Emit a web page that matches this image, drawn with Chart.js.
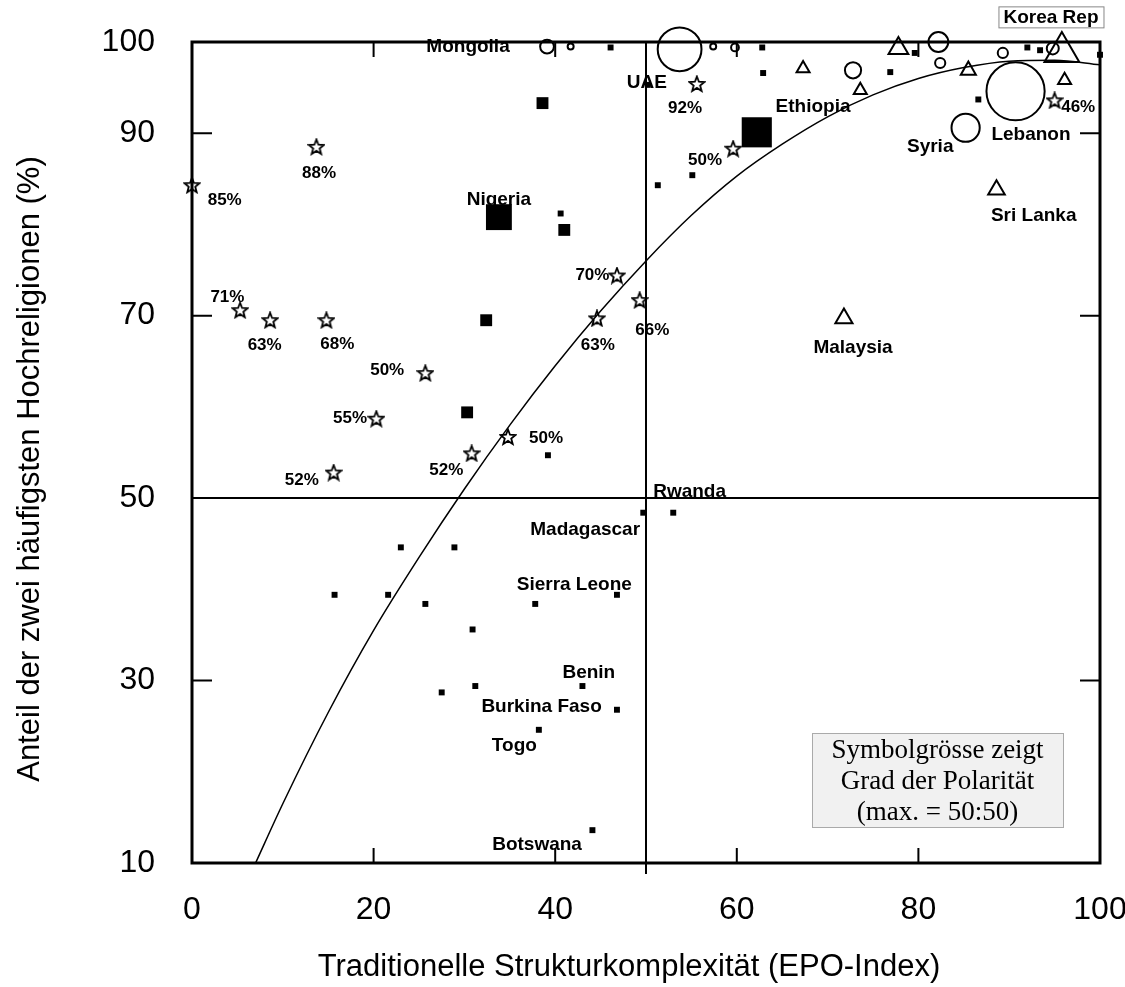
<!DOCTYPE html>
<html>
<head>
<meta charset="utf-8">
<script src="https://cdn.jsdelivr.net/npm/chart.js@4.4.0/dist/chart.umd.min.js"></script>
<style>
  html, body { margin: 0; padding: 0; background: #fff; overflow: hidden; }
  #wrap { width: 1125px; height: 987px; }
</style>
</head>
<body>
<div id="wrap"><canvas id="grafik" width="1125" height="987"></canvas></div>
<script>
// Achsen
const xTicks = [0, 20, 40, 60, 80, 100];
const yTicks = [10, 30, 50, 70, 90, 100];
const trennX = 50;
const trennY = 50;

// Schwarze Quadrate (Wert + Polarität)
const quadX = [23.0, 28.9, 15.7, 21.6, 25.7, 37.8, 46.8, 30.9, 31.2, 27.5, 43.0, 46.8, 38.2, 44.1, 49.7, 53.0,
  39.2, 40.6, 51.3, 55.1, 46.1, 50.2, 62.8, 62.9, 76.9, 79.6, 86.6, 100, 92.0, 93.4,
  38.6, 41.0, 32.4, 30.3, 33.8, 62.2];
const quadY = [44.6, 44.6, 39.4, 39.4, 38.4, 38.4, 39.4, 35.6, 29.4, 28.7, 29.4, 26.8, 24.6, 13.6, 48.4, 48.4,
  54.7, 81.2, 84.3, 85.4, 99.4, 95.3, 99.4, 96.6, 96.7, 98.8, 93.7, 98.6, 99.4, 99.1,
  93.3, 79.4, 69.5, 59.4, 80.8, 90.1];
const quadPol = [1.4, 1.4, 1.4, 1.4, 1.4, 1.4, 1.4, 1.4, 1.4, 1.4, 1.4, 1.4, 1.4, 1.4, 1.4, 1.4,
  1.4, 1.4, 1.4, 1.4, 1.4, 1.4, 1.4, 1.4, 1.4, 1.4, 1.4, 1.4, 1.4, 1.4,
  2.8, 2.8, 2.8, 2.8, 6.1, 7.1];

// Sterne mit Prozentangaben
const sternX = [0, 13.7, 5.3, 8.6, 14.8, 25.7, 20.3, 15.6, 30.8, 34.8, 44.6, 46.8, 49.3, 55.6, 59.6, 95.0];
const sternY = [84.3, 88.5, 70.6, 69.5, 69.5, 63.7, 58.7, 52.8, 54.9, 56.7, 69.7, 74.4, 71.7, 95.4, 88.3, 93.6];
const sternAnteil = ['85%', '88%', '71%', '63%', '68%', '50%', '55%', '52%', '52%', '50%', '63%', '70%', '66%', '92%', '50%', '46%'];
const sternTextX = [3.6, 14.0, 3.9, 8.0, 16.0, 21.5, 17.4, 12.1, 28.0, 39.0, 44.7, 44.1, 50.7, 54.3, 56.5, 97.6];
const sternTextY = [82.7, 85.6, 72.0, 66.7, 66.9, 64.0, 58.8, 52.0, 53.0, 56.6, 66.7, 74.4, 68.4, 92.7, 87.0, 92.8];

// Offene Kreise
const kreisX = [53.7, 90.7, 85.2, 39.1, 41.7, 82.2, 72.8, 82.4, 89.3, 94.8, 57.4, 59.8];
const kreisY = [99.2, 94.6, 90.6, 99.5, 99.5, 100, 96.9, 97.7, 98.8, 99.3, 99.5, 99.4];
const kreisPol = [7.3, 9.7, 4.7, 2.3, 1.0, 3.3, 2.7, 1.7, 1.7, 2.0, 1.0, 1.3];

// Offene Dreiecke
const dreieckX = [67.3, 77.8, 73.6, 85.5, 96.1, 88.6, 71.8, 95.8];
const dreieckY = [97.1, 99.3, 94.7, 96.9, 95.8, 83.8, 69.7, 98.9];
const dreieckPol = [2.5, 3.8, 2.5, 2.9, 2.5, 3.2, 3.3, 6.7];

// Angepasste Kurve
const kurveX = [7, 10, 15, 20, 25, 30, 35, 40, 45, 50, 55, 60, 65, 70, 75, 80, 85, 90, 95, 100];
const kurveY = [10, 16.5, 26.5, 35.5, 43.5, 51, 58, 64.5, 70.5, 76, 81, 85.3, 88.8, 91.8, 94.2, 96, 97.2, 97.9, 98, 97.5];

// Ländernamen
const landName = ['Mongolia', 'UAE', 'Nigeria', 'Ethiopia', 'Syria', 'Lebanon', 'Sri Lanka', 'Malaysia', 'Korea Rep',
  'Rwanda', 'Madagascar', 'Sierra Leone', 'Benin', 'Burkina Faso', 'Togo', 'Botswana'];
const landX = [30.4, 50.1, 33.8, 68.4, 81.3, 92.4, 92.7, 72.8, 94.6, 54.8, 43.3, 42.1, 43.7, 38.5, 35.5, 38.0];
const landY = [99.5, 95.5, 82.7, 92.9, 88.5, 89.8, 81.0, 66.5, 102.7, 50.7, 46.5, 40.5, 30.9, 27.1, 22.9, 12.0];

const titelX = 'Traditionelle Strukturkomplexität (EPO-Index)';
const titelY = 'Anteil der zwei häufigsten Hochreligionen (%)';
const hinweis = ['Symbolgrösse zeigt', 'Grad der Polarität', '(max. = 50:50)'];

const SANS = '"Liberation Sans", Arial, Helvetica, sans-serif';
const SERIF = '"Liberation Serif", "Times New Roman", serif';
const RAND_RECHTS = 25;

function punkte(xs, ys) {
  return xs.map((v, i) => ({ x: v, y: ys[i] }));
}

// Stern als kleines Bild
function sternBild() {
  const c = document.createElement('canvas');
  c.width = 18; c.height = 18;
  const g = c.getContext('2d');
  g.strokeStyle = '#000';
  g.lineWidth = 1.8;
  g.beginPath();
  for (let k = 0; k < 10; k++) {
    const r = k % 2 === 0 ? 8 : 3.4;
    const w = -Math.PI / 2 + k * Math.PI / 5;
    const px = 9 + r * Math.cos(w), py = 9.5 + r * Math.sin(w);
    if (k === 0) g.moveTo(px, py); else g.lineTo(px, py);
  }
  g.closePath();
  g.stroke();
  return c;
}

const rahmenPlugin = {
  id: 'rahmen',
  // rechten Rand der Zeichenfläche festlegen
  afterLayout(chart) {
    const a = chart.chartArea;
    const x = chart.scales.x;
    a.right = chart.width - RAND_RECHTS;
    a.width = a.right - a.left;
    x.right = a.right;
    x.width = a.right - x.left;
    x.configure();
  },
  beforeDatasetsDraw(chart) {
    const { ctx, chartArea: a, scales: { x, y } } = chart;
    ctx.save();
    ctx.strokeStyle = '#000';
    ctx.lineWidth = 3;
    ctx.strokeRect(a.left, a.top, a.right - a.left, a.bottom - a.top);

    // Trennlinien bei 50
    ctx.lineWidth = 2;
    const px = x.getPixelForValue(trennX);
    const py = y.getPixelForValue(trennY);
    ctx.beginPath();
    ctx.moveTo(px, a.top); ctx.lineTo(px, a.bottom + 11);
    ctx.moveTo(a.left, py); ctx.lineTo(a.right, py);
    ctx.stroke();

    // innere Striche
    ctx.lineWidth = 2;
    ctx.beginPath();
    xTicks.slice(1, -1).forEach(v => {
      const p = x.getPixelForValue(v);
      ctx.moveTo(p, a.bottom); ctx.lineTo(p, a.bottom - 15);
      ctx.moveTo(p, a.top); ctx.lineTo(p, a.top + 15);
    });
    yTicks.filter(v => v !== 10 && v !== 100 && v !== trennY).forEach(v => {
      const p = y.getPixelForValue(v);
      ctx.moveTo(a.left, p); ctx.lineTo(a.left + 20, p);
      ctx.moveTo(a.right, p); ctx.lineTo(a.right - 20, p);
    });
    ctx.stroke();
    ctx.restore();
  },
  afterDatasetsDraw(chart) {
    const { ctx, scales: { x, y } } = chart;
    ctx.save();
    ctx.fillStyle = '#000';
    ctx.textAlign = 'center';
    ctx.textBaseline = 'middle';
    ctx.font = 'bold 17px ' + SANS;
    sternAnteil.forEach((t, i) => {
      ctx.fillText(t, x.getPixelForValue(sternTextX[i]), y.getPixelForValue(sternTextY[i]));
    });
    ctx.font = 'bold 19px ' + SANS;
    landName.forEach((t, i) => {
      const px = x.getPixelForValue(landX[i]);
      const py = y.getPixelForValue(landY[i]);
      if (t === 'Korea Rep') {
        const w = ctx.measureText(t).width;
        ctx.fillStyle = '#fff';
        ctx.fillRect(px - w / 2 - 5, py - 11, w + 10, 21);
        ctx.strokeStyle = '#888';
        ctx.lineWidth = 1;
        ctx.strokeRect(px - w / 2 - 5 + 0.5, py - 11 + 0.5, w + 10, 21);
        ctx.fillStyle = '#000';
      }
      ctx.fillText(t, px, py);
    });
    ctx.restore();
  },
  afterDraw(chart) {
    const { ctx, chartArea: a, scales: { x } } = chart;
    ctx.save();
    // Hinweisbox
    const bx = a.left + 620, by = a.top + 691, bw = 251, bh = 94;
    ctx.fillStyle = '#f1f1f1';
    ctx.fillRect(bx, by, bw, bh);
    ctx.strokeStyle = '#aaa';
    ctx.lineWidth = 1;
    ctx.strokeRect(bx + 0.5, by + 0.5, bw, bh);
    ctx.fillStyle = '#000';
    ctx.textAlign = 'center';
    ctx.textBaseline = 'middle';
    ctx.font = '27px ' + SERIF;
    hinweis.forEach((t, i) => ctx.fillText(t, bx + bw / 2, by + 18 + i * 31));

    // x-Beschriftung
    ctx.font = '32px ' + SANS;
    xTicks.forEach(v => ctx.fillText(String(v), x.getPixelForValue(v), a.bottom + 47));

    // Achsentitel
    ctx.font = '31px ' + SANS;
    ctx.fillText(titelX, a.left + 437, a.bottom + 104);
    ctx.translate(30, a.top + 427);
    ctx.rotate(-Math.PI / 2);
    ctx.fillText(titelY, 0, 0);
    ctx.restore();
  }
};

const stern = sternBild();

new Chart(document.getElementById('grafik'), {
  type: 'scatter',
  data: {
    datasets: [
      {
        label: 'Sterne',
        data: punkte(sternX, sternY),
        pointStyle: stern,
        pointRadius: 8,
        clip: false
      },
      {
        label: 'Quadrate',
        data: punkte(quadX, quadY),
        pointStyle: 'rect',
        pointRadius: quadPol.map(p => p * 3),
        backgroundColor: '#000',
        borderColor: '#000',
        borderWidth: 0,
        clip: false
      },
      {
        label: 'Kreise',
        data: punkte(kreisX, kreisY),
        pointStyle: 'circle',
        pointRadius: kreisPol.map(p => p * 3),
        backgroundColor: 'rgba(0,0,0,0)',
        borderColor: '#000',
        borderWidth: 2,
        clip: false
      },
      {
        label: 'Dreiecke',
        data: punkte(dreieckX, dreieckY),
        pointStyle: 'triangle',
        pointRadius: dreieckPol.map(p => p * 3),
        backgroundColor: 'rgba(0,0,0,0)',
        borderColor: '#000',
        borderWidth: 2,
        clip: false
      },
      {
        label: 'Kurve',
        type: 'line',
        data: punkte(kurveX, kurveY),
        showLine: true,
        borderColor: '#000',
        borderWidth: 1.5,
        pointRadius: 0,
        fill: false,
        cubicInterpolationMode: 'monotone'
      }
    ]
  },
  options: {
    responsive: false,
    animation: false,
    events: [],
    layout: { padding: { left: 0, right: RAND_RECHTS, top: 42, bottom: 0 } },
    plugins: {
      legend: { display: false },
      tooltip: { enabled: false }
    },
    scales: {
      x: {
        type: 'linear',
        min: 0,
        max: 100,
        afterBuildTicks: s => { s.ticks = xTicks.map(v => ({ value: v })); },
        afterFit: s => { s.height = 124; s.paddingLeft = 0; s.paddingRight = 0; },
        grid: { display: false, drawTicks: false },
        border: { display: false },
        ticks: { display: false }
      },
      y: {
        type: 'linear',
        min: 10,
        max: 100,
        afterBuildTicks: s => { s.ticks = yTicks.map(v => ({ value: v })); },
        afterFit: s => { s.width = 192; s.paddingTop = 0; s.paddingBottom = 0; },
        grid: { display: false, drawTicks: false },
        border: { display: false },
        ticks: { color: '#000', padding: 37, font: { family: SANS, size: 32 } }
      }
    }
  },
  plugins: [rahmenPlugin]
});
</script>
</body>
</html>
